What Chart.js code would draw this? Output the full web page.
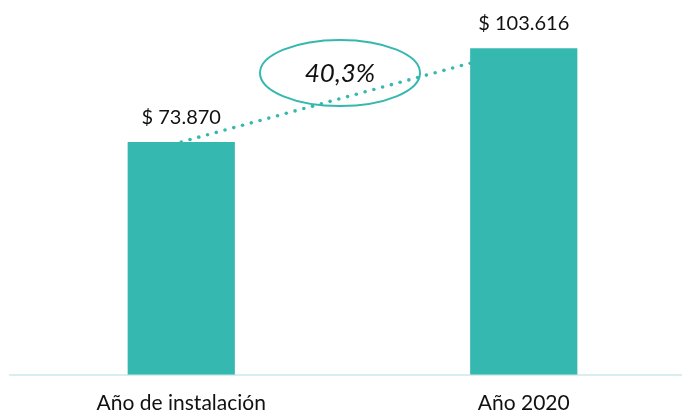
<!DOCTYPE html>
<html>
<head>
<meta charset="utf-8">
<script src="https://cdn.jsdelivr.net/npm/chart.js@4/dist/chart.umd.min.js"></script>
<style>
  html, body { margin: 0; padding: 0; background: #fff; overflow: hidden; }
  #wrap { width: 695px; height: 432px; }
</style>
</head>
<body>
<div id="wrap"><canvas id="chart"></canvas></div>
<script>
// datos del gráfico
const categories = ["Año de instalación", "Año 2020"];
const values = [73870, 103616];
const valueLabels = ["$ 73.870", "$ 103.616"];
const growthLabel = "40,3%";

const teal = "#35b8af";

// etiquetas de valor, línea punteada y elipse
const extras = {
  id: "extras",
  afterDatasetsDraw(chart) {
    const ctx = chart.ctx;
    const bars = chart.getDatasetMeta(0).data;
    const y = chart.scales.y;

    // etiquetas sobre las barras
    ctx.save();
    ctx.fillStyle = "#111";
    ctx.font = "20px Lato, 'Noto Sans', sans-serif";
    ctx.textAlign = "center";
    ctx.textBaseline = "alphabetic";
    bars.forEach((bar, i) => {
      ctx.fillText(valueLabels[i], bar.x, bar.y - 18);
    });
    ctx.restore();

    // línea punteada
    const x0 = bars[0].x;
    const y0 = y.getPixelForValue(values[0]);
    const x1 = bars[1].x - bars[1].width / 2;
    const y1 = y.getPixelForValue(values[1]) + 15;
    ctx.save();
    ctx.fillStyle = teal;
    const len = Math.hypot(x1 - x0, y1 - y0);
    const n = Math.round(len / 9.2);
    for (let i = 0; i <= n; i++) {
      const t = i / n;
      ctx.beginPath();
      ctx.arc(x0 + (x1 - x0) * t, y0 + (y1 - y0) * t, 1.8, 0, Math.PI * 2);
      ctx.fill();
    }
    ctx.restore();

    // elipse con el porcentaje
    const cx = 340;
    const cy = 73;
    ctx.save();
    ctx.strokeStyle = teal;
    ctx.lineWidth = 2;
    ctx.beginPath();
    ctx.ellipse(cx, cy, 80, 33, 0, 0, Math.PI * 2);
    ctx.stroke();
    ctx.fillStyle = "#111";
    ctx.font = "italic 26px Lato, 'Noto Sans', sans-serif";
    ctx.textAlign = "center";
    ctx.textBaseline = "middle";
    ctx.fillText(growthLabel, cx, cy + 1);
    ctx.restore();
  },
};

new Chart(document.getElementById("chart"), {
  type: "bar",
  data: {
    labels: categories,
    datasets: [
      {
        data: values,
        backgroundColor: teal,
        borderWidth: 0,
        barPercentage: 0.313,
        categoryPercentage: 1,
      },
    ],
  },
  options: {
    responsive: true,
    maintainAspectRatio: false,
    animation: false,
    layout: { padding: { left: 10, right: 0, top: 0, bottom: 0 } },
    plugins: {
      legend: { display: false },
      tooltip: { enabled: false },
    },
    scales: {
      x: {
        grid: { display: false, drawTicks: false },
        border: { display: true, color: "#d7efed", width: 2 },
        ticks: {
          color: "#111",
          padding: 16,
          font: { family: "Lato, 'Noto Sans', sans-serif", size: 21 },
        },
      },
      y: {
        display: false,
        min: 0,
        max: 118900,
      },
    },
  },
  plugins: [extras],
});
</script>
</body>
</html>
